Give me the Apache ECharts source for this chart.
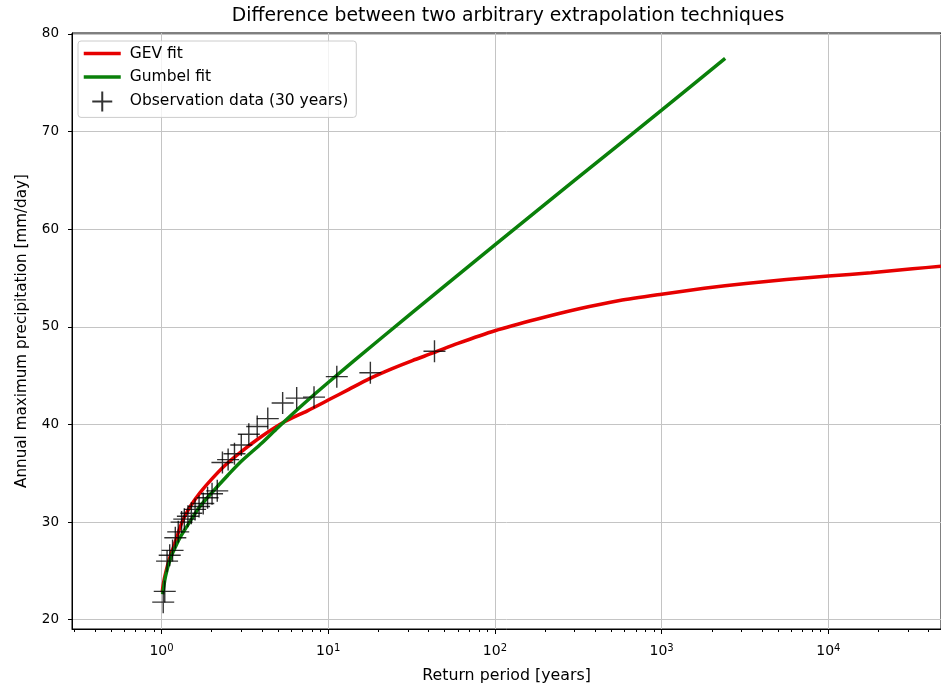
<!DOCTYPE html>
<html><head><meta charset="utf-8">
<script src="https://cdn.jsdelivr.net/npm/echarts@6/dist/echarts.min.js"></script>
<style>html,body{margin:0;padding:0;background:#fff}#c{width:941px;height:689px}</style>
</head><body><div id="c"></div>
<script>
// GEV fit (return period [years], value [mm/day])
const gevT = [1.01, 1.02, 1.04, 1.07, 1.1, 1.15, 1.2, 1.26, 1.32, 1.4, 1.5, 1.7, 2, 2.4, 3, 4, 5.5, 7.5, 10, 13.3, 17.7, 24, 32, 43, 60, 100, 180, 320, 560, 1000, 1800, 3200, 5600, 10000, 18000, 32000, 47400];
const gevV = [22.8, 23.4, 24.2, 25.1, 25.9, 26.9, 27.8, 28.9, 29.9, 30.8, 31.7, 33.0, 34.4, 35.8, 37.2, 38.8, 40.3, 41.4, 42.5, 43.6, 44.7, 45.7, 46.55, 47.35, 48.3, 49.6, 50.8, 51.85, 52.7, 53.35, 53.95, 54.45, 54.85, 55.2, 55.55, 55.95, 56.2];
// Gumbel fit
const gumT = [1.015, 1.03, 1.05, 1.08, 1.1, 1.15, 1.2, 1.3, 1.5, 1.7, 2, 2.5, 3, 4, 5, 7, 10, 20, 50, 100, 300, 1000, 2405];
const gumV = [22.6, 23.3, 24.2, 25.1, 25.6, 26.6, 27.3, 28.5, 30.2, 31.6, 33.0, 34.8, 36.2, 38.1, 39.7, 42.0, 44.3, 48.6, 54.2, 58.4, 65.0, 72.2, 77.5];
// Observations (30 years)
const obsT = [43.4, 17.9, 11.26, 8.22, 6.47, 5.33, 4.34, 3.75, 3.34, 3.01, 2.74, 2.51, 2.32, 2.16, 2.01, 1.89, 1.78, 1.68, 1.59, 1.51, 1.44, 1.37, 1.32, 1.26, 1.21, 1.165, 1.12, 1.08, 1.046, 1.024];
const obsV = [47.5, 45.3, 44.9, 42.8, 42.7, 42.2, 40.6, 39.8, 39.0, 37.9, 37.0, 36.4, 36.1, 33.2, 32.9, 32.5, 31.9, 31.6, 31.3, 30.9, 30.6, 30.3, 30.0, 29.0, 28.4, 27.1, 26.6, 26.0, 22.9, 21.8];

const xMajorTicks = [1, 10, 100, 1000, 10000];
const yTickLabels = [20, 30, 40, 50, 60, 70, 80];
const xMin = 0.2905, xMax = 47400, yMin = 19.05, yMax = 80.1;

const xMinorTicks = [];
[0.1, 1, 10, 100, 1000, 10000].forEach(d => { for (let k = 2; k <= 9; k++) { const v = k * d; if (v >= xMin && v <= xMax) xMinorTicks.push(v); } });

const FF = 'DejaVu Sans';
const pair = (xs, ys) => xs.map((x, i) => [x, ys[i]]);

const chart = echarts.init(document.getElementById('c'), null, {renderer: 'canvas'});
chart.setOption({
  animation: false,
  backgroundColor: '#fff',
  title: {
    text: 'Difference between two arbitrary extrapolation techniques',
    left: 508, top: 7, padding: 0, textAlign: 'center',
    textStyle: {fontFamily: FF, fontSize: 18.8, fontWeight: 'normal', color: '#000'}
  },
  legend: {
    left: 78, top: 41, orient: 'vertical',
    padding: [2.6, 8, 5, 4],
    itemWidth: 37, itemHeight: 20, itemGap: 3.4,
    backgroundColor: 'rgba(255,255,255,0.8)', borderColor: '#cccccc', borderWidth: 1, borderRadius: 3,
    textStyle: {fontFamily: FF, fontSize: 15.5, color: '#000', lineHeight: 20, padding: [0, 0, 0, 4]},
    data: [
      {name: 'GEV fit', itemStyle: {opacity: 0}, lineStyle: {width: 3.5}},
      {name: 'Gumbel fit', itemStyle: {opacity: 0}, lineStyle: {width: 3.5}},
      {name: 'Observation data (30 years)'}
    ]
  },
  grid: {left: 72, top: 33, right: -2, bottom: 59, show: true, borderColor: '#000', borderWidth: 1, backgroundColor: 'transparent'},
  xAxis: [{
    type: 'log', logBase: 10, min: xMin, max: xMax, position: 'bottom',
    name: 'Return period [years]', nameLocation: 'middle', nameGap: 39,
    nameTextStyle: {fontFamily: FF, fontSize: 15.8, color: '#000'},
    axisLine: {show: true, lineStyle: {color: '#000', width: 1}},
    axisTick: {show: true, inside: false, length: 5, customValues: xMajorTicks, lineStyle: {color: '#000', width: 1}},
    axisLabel: {
      customValues: xMajorTicks, margin: 14, color: '#000',
      formatter: v => '{b|10}{s|' + Math.round(Math.log10(v)) + '}',
      rich: {b: {fontFamily: FF, fontSize: 14, color: '#000', lineHeight: 17}, s: {fontFamily: FF, fontSize: 10, color: '#000', verticalAlign: 'top', lineHeight: 11}}
    },
    splitLine: {show: true, lineStyle: {color: '#c4c4c4', width: 1}}
  }, {
    type: 'log', logBase: 10, min: xMin, max: xMax, position: 'bottom', gridIndex: 0,
    axisLine: {show: false},
    axisTick: {show: true, inside: false, length: 3, customValues: xMinorTicks, lineStyle: {color: '#000', width: 1}},
    axisLabel: {show: false},
    splitLine: {show: false}
  }],
  yAxis: {
    type: 'value', min: yMin, max: yMax, splitNumber: 6,
    name: 'Annual maximum precipitation [mm/day]', nameLocation: 'middle', nameGap: 42, nameRotate: 90,
    nameTextStyle: {fontFamily: FF, fontSize: 15.2, color: '#000'},
    axisLine: {show: true, lineStyle: {color: '#000', width: 1}},
    axisTick: {show: true, inside: false, length: 4, customValues: yTickLabels, lineStyle: {color: '#000'}},
    axisLabel: {customValues: yTickLabels, margin: 13, fontFamily: FF, fontSize: 13.5, color: '#000'},
    splitLine: {show: true, lineStyle: {color: '#c4c4c4', width: 1}}
  },
  series: [{
    name: 'GEV fit', type: 'line', xAxisIndex: 0, data: pair(gevT, gevV), smooth: 0.25, showSymbol: false, symbol: 'none',
    lineStyle: {color: '#e60000', width: 3.5}, itemStyle: {color: '#e60000'}, z: 2
  }, {
    name: 'Gumbel fit', type: 'line', xAxisIndex: 0, data: pair(gumT, gumV), smooth: 0.25, showSymbol: false, symbol: 'none',
    lineStyle: {color: '#0a800a', width: 3.5}, itemStyle: {color: '#0a800a'}, z: 3
  }, {
    name: 'Observation data (30 years)', type: 'scatter', xAxisIndex: 0, data: pair(obsT, obsV),
    symbol: 'path://M0,-10L0,10M-10,0L10,0', symbolSize: 22, symbolKeepAspect: true,
    itemStyle: {color: 'rgba(0,0,0,0)', borderColor: '#000', borderWidth: 1.4}, z: 4
  }]
});
</script></body></html>
